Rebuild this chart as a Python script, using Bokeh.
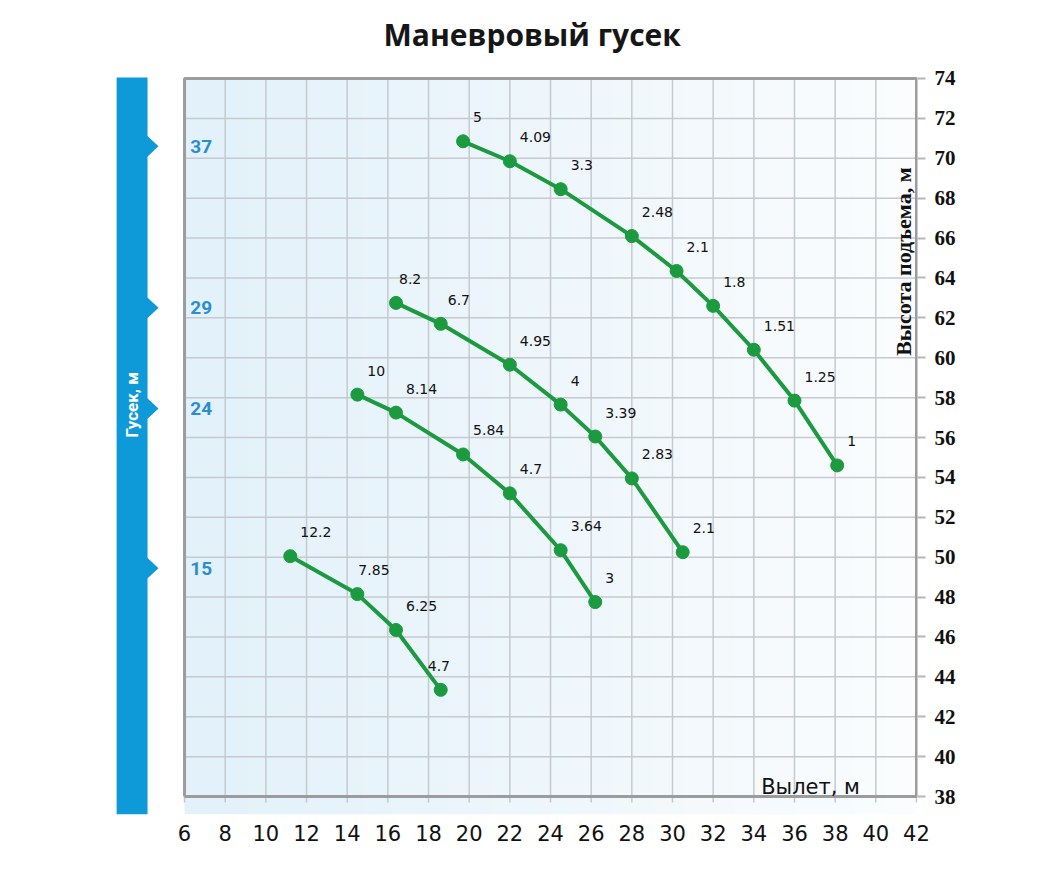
import numpy as np
from bokeh.plotting import figure
from bokeh.models import FixedTicker, Range1d
from bokeh.core.properties import value
from bokeh.embed import file_html
from bokeh.resources import INLINE

# ---------------- data ----------------
title_text = "Маневровый гусек"
x_ticks = list(range(6, 43, 2))
y_ticks = list(range(38, 75, 2))

boom_labels = ["37", "29", "24", "15"]
boom_marks = [70.6, 62.5, 57.45, 49.45]

reach_37 = [19.7, 22.0, 24.5, 28.0, 30.2, 32.0, 34.0, 36.0, 38.1]
height_37 = [70.85, 69.85, 68.45, 66.1, 64.35, 62.6, 60.4, 57.85, 54.6]
load_37 = ["5", "4.09", "3.3", "2.48", "2.1", "1.8", "1.51", "1.25", "1"]

reach_29 = [16.4, 18.6, 22.0, 24.5, 26.2, 28.0, 30.5]
height_29 = [62.75, 61.7, 59.65, 57.65, 56.05, 53.95, 50.25]
load_29 = ["8.2", "6.7", "4.95", "4", "3.39", "2.83", "2.1"]

reach_24 = [14.5, 16.4, 19.7, 22.0, 24.5, 26.2]
height_24 = [58.15, 57.25, 55.15, 53.2, 50.35, 47.75]
load_24 = ["10", "8.14", "5.84", "4.7", "3.64", "3"]

reach_15 = [11.2, 14.5, 16.4, 18.6]
height_15 = [50.05, 48.15, 46.35, 43.35]
load_15 = ["12.2", "7.85", "6.25", "4.7"]

curves = [
    (reach_37, height_37, load_37),
    (reach_29, height_29, load_29),
    (reach_24, height_24, load_24),
    (reach_15, height_15, load_15),
]

# ---------------- styles ----------------
GREEN = "#1b9a3f"
BLUE = "#0e9ad8"
GRID = "#c6cacf"
FRAME = "#9c9c9c"

# label nudges (screen px) for a few labels placed differently in the original
label_nudge = {(1, 0): -7, (1, 1): -3, (3, 1): -9, (3, 3): -23}

X0, X1 = 2.26, 42.05
Y0, Y1 = 37.1, 77.91
XMIN, XMAX = x_ticks[0], x_ticks[-1]
YMIN, YMAX = y_ticks[0], y_ticks[-1]

p = figure(frame_width=809, frame_height=814,
           x_range=Range1d(X0, X1), y_range=Range1d(Y0, Y1),
           output_backend="svg", toolbar_location=None,
           y_axis_location="right",
           min_border_left=108, min_border_top=0,
           min_border_right=20, min_border_bottom=30)

p.grid.visible = False
p.outline_line_color = None
p.background_fill_color = "white"
p.border_fill_color = "white"

# x axis (bottom)
xa = p.xaxis[0]
xa.ticker = FixedTicker(ticks=x_ticks)
xa.axis_line_color = None
xa.major_tick_out = 0
xa.major_tick_in = 0
xa.minor_tick_line_color = None
xa.major_label_text_font = "DejaVu Sans"
xa.major_label_text_font_size = "21px"
xa.major_label_text_color = "#111111"
xa.major_label_standoff = 10

# y axis (right)
ya = p.yaxis[0]
ya.ticker = FixedTicker(ticks=y_ticks)
ya.axis_line_color = None
ya.major_tick_out = 8
ya.major_tick_in = 0
ya.major_tick_line_color = "#b5b5b5"
ya.major_tick_line_width = 2
ya.minor_tick_line_color = None
ya.major_label_text_font = "Liberation Serif"
ya.major_label_text_font_style = "bold"
ya.major_label_text_font_size = "21px"
ya.major_label_text_color = "#111111"
ya.major_label_standoff = 9

# gradient background
n = 256
t = np.linspace(0, 1, n)
c0 = np.array([0xe2, 0xf1, 0xfa], dtype=float)
c1 = np.array([0xfb, 0xfd, 0xfe], dtype=float)
rgb = (c0 + (c1 - c0) * t[:, None]).astype(np.uint8)
img = np.zeros((1, n), dtype=np.uint32)
view = img.view(dtype=np.uint8).reshape((1, n, 4))
view[0, :, 0] = rgb[:, 0]
view[0, :, 1] = rgb[:, 1]
view[0, :, 2] = rgb[:, 2]
view[0, :, 3] = 255
p.image_rgba(image=[img], x=XMIN, y=Y0, dw=XMAX - XMIN, dh=YMAX - Y0)

# grid lines
inner_x = x_ticks[1:-1]
inner_y = y_ticks[1:-1]
p.segment(x0=inner_x, y0=[YMIN] * len(inner_x), x1=inner_x, y1=[YMAX] * len(inner_x),
          line_color=GRID, line_width=1.5)
p.segment(x0=[XMIN] * len(inner_y), y0=inner_y, x1=[XMAX] * len(inner_y), y1=inner_y,
          line_color=GRID, line_width=1.5)

# small ticks below frame
p.segment(x0=x_ticks, y0=[YMIN] * len(x_ticks), x1=x_ticks, y1=[YMIN - 0.3] * len(x_ticks),
          line_color="#c3c7cb", line_width=1.5)

# frame
p.multi_line(xs=[[XMIN, XMIN, XMAX, XMAX, XMIN]], ys=[[YMIN, YMAX, YMAX, YMIN, YMIN]],
             line_color=FRAME, line_width=3)

# title (drawn as text above the plotting box)
p.text(x=[(XMIN + XMAX) / 2 - 0.9], y=[YMAX + 2.2], text=[title_text],
       text_align="center", text_baseline="middle", text_color="#161616",
       text_font=value("Open Sans"), text_font_style="bold", text_font_size="30px")

# left blue bar
bar_l, bar_r = 2.66, 4.18
p.quad(left=bar_l, right=bar_r, bottom=Y0, top=YMAX + 0.05, fill_color=BLUE, line_color=None)
p.patches(xs=[[bar_r - 0.05, bar_r + 0.54, bar_r - 0.05] for _ in boom_marks],
          ys=[[m + 0.56, m, m - 0.56] for m in boom_marks],
          fill_color=BLUE, line_color=None)
p.text(x=[(bar_l + bar_r) / 2], y=[57.65], text=["Гусек, м"], angle=np.pi / 2,
       text_align="center", text_baseline="middle", text_color="white",
       text_font=value("Roboto"), text_font_style="bold", text_font_size="17px")
p.text(x=[XMIN + 0.28] * len(boom_marks), y=boom_marks, text=boom_labels,
       text_align="left", text_baseline="middle", text_color="#2b8fcf",
       text_font=value("Roboto"), text_font_style="bold", text_font_size="19px")

# axis titles inside plot
p.text(x=[41.36], y=[64.82], text=["Высота подъема, м"], angle=np.pi / 2,
       text_align="center", text_baseline="middle", text_color="#111111",
       text_font=value("Liberation Serif"), text_font_style="bold", text_font_size="22px")
p.text(x=[36.79], y=[38.5], text=["Вылет, м"],
       text_align="center", text_baseline="middle", text_color="#111111",
       text_font=value("DejaVu Sans"), text_font_size="21px")

# curves
for ci, (rx, hy, lb) in enumerate(curves):
    p.line(rx, hy, line_color=GREEN, line_width=4)
    p.scatter(rx, hy, size=13, fill_color=GREEN, line_color=GREEN)
    dx = [10 + label_nudge.get((ci, i), 0) for i in range(len(rx))]
    p.text(x=rx, y=hy, text=lb, x_offset=dx, y_offset=-24,
           text_align="left", text_baseline="middle", text_color="#111111",
           text_font=value("DejaVu Sans"), text_font_size="14px")

open("out.html", "w").write(file_html(p, INLINE))
